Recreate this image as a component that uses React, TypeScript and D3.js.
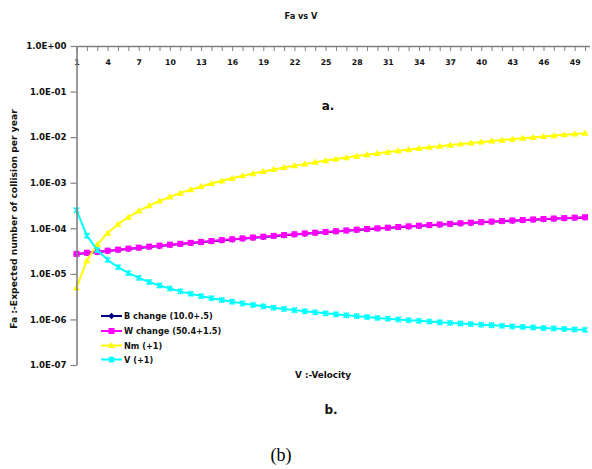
import React, { useEffect, useRef } from "react";
import * as d3 from "d3";

const categories = [
  1, 2, 3, 4, 5, 6, 7, 8, 9, 10, 11, 12, 13, 14, 15, 16, 17, 18, 19, 20, 21, 22, 23, 24, 25,
  26, 27, 28, 29, 30, 31, 32, 33, 34, 35, 36, 37, 38, 39, 40, 41, 42, 43, 44, 45, 46, 47, 48, 49, 50,
];
const xTickLabels = ["1", "4", "7", "10", "13", "16", "19", "22", "25", "28", "31", "34", "37", "40", "43", "46", "49"];
const yTickValues = [1, 1e-1, 1e-2, 1e-3, 1e-4, 1e-5, 1e-6, 1e-7];
const yTickLabels = ["1.0E+00", "1.0E-01", "1.0E-02", "1.0E-03", "1.0E-04", "1.0E-05", "1.0E-06", "1.0E-07"];

const bChange = [
  2.7e-5, 2.86e-5, 3.02e-5, 3.18e-5, 3.35e-5, 3.53e-5, 3.71e-5, 3.9e-5, 4.1e-5, 4.3e-5,
  4.51e-5, 4.73e-5, 4.95e-5, 5.18e-5, 5.42e-5, 5.67e-5, 5.92e-5, 6.18e-5, 6.45e-5, 6.72e-5,
  7.0e-5, 7.29e-5, 7.59e-5, 7.89e-5, 8.2e-5, 8.52e-5, 8.84e-5, 9.17e-5, 9.5e-5, 9.84e-5,
  1.019e-4, 1.054e-4, 1.089e-4, 1.125e-4, 1.161e-4, 1.198e-4, 1.235e-4, 1.272e-4, 1.31e-4, 1.348e-4,
  1.386e-4, 1.424e-4, 1.462e-4, 1.501e-4, 1.539e-4, 1.577e-4, 1.615e-4, 1.653e-4, 1.69e-4, 1.727e-4,
];
const wChange = [
  2.75e-5, 2.9e-5, 3.06e-5, 3.23e-5, 3.4e-5, 3.58e-5, 3.76e-5, 3.96e-5, 4.16e-5, 4.36e-5,
  4.57e-5, 4.79e-5, 5.02e-5, 5.26e-5, 5.5e-5, 5.75e-5, 6.0e-5, 6.27e-5, 6.54e-5, 6.82e-5,
  7.1e-5, 7.4e-5, 7.7e-5, 8.0e-5, 8.32e-5, 8.64e-5, 8.96e-5, 9.3e-5, 9.64e-5, 9.98e-5,
  1.033e-4, 1.068e-4, 1.104e-4, 1.14e-4, 1.177e-4, 1.214e-4, 1.252e-4, 1.29e-4, 1.328e-4, 1.366e-4,
  1.404e-4, 1.443e-4, 1.482e-4, 1.521e-4, 1.56e-4, 1.598e-4, 1.637e-4, 1.675e-4, 1.713e-4, 1.75e-4,
];
const nm = [
  4.9e-6, 1.96e-5, 4.41e-5, 7.84e-5, 1.23e-4, 1.76e-4, 2.4e-4, 3.14e-4, 3.97e-4, 4.9e-4,
  5.93e-4, 7.06e-4, 8.28e-4, 9.6e-4, 1.1e-3, 1.25e-3, 1.42e-3, 1.59e-3, 1.77e-3, 1.96e-3,
  2.16e-3, 2.37e-3, 2.59e-3, 2.82e-3, 3.06e-3, 3.31e-3, 3.57e-3, 3.84e-3, 4.12e-3, 4.41e-3,
  4.71e-3, 5.02e-3, 5.34e-3, 5.66e-3, 6.0e-3, 6.35e-3, 6.71e-3, 7.08e-3, 7.45e-3, 7.84e-3,
  8.24e-3, 8.64e-3, 9.06e-3, 9.49e-3, 9.92e-3, 1.037e-2, 1.082e-2, 1.129e-2, 1.176e-2, 1.225e-2,
];
const vPlus = [
  2.5e-4, 6.88e-5, 3.33e-5, 2.03e-5, 1.4e-5, 1.04e-5, 8.16e-6, 6.64e-6, 5.56e-6, 4.75e-6,
  4.13e-6, 3.65e-6, 3.25e-6, 2.93e-6, 2.67e-6, 2.44e-6, 2.25e-6, 2.08e-6, 1.94e-6, 1.81e-6,
  1.7e-6, 1.6e-6, 1.51e-6, 1.43e-6, 1.36e-6, 1.3e-6, 1.23e-6, 1.18e-6, 1.13e-6, 1.08e-6,
  1.04e-6, 1.0e-6, 9.65e-7, 9.3e-7, 8.98e-7, 8.68e-7, 8.4e-7, 8.14e-7, 7.89e-7, 7.66e-7,
  7.44e-7, 7.23e-7, 7.03e-7, 6.84e-7, 6.67e-7, 6.49e-7, 6.34e-7, 6.19e-7, 6.04e-7, 5.9e-7,
];

const seriesNames = ["B change (10.0+.5)", "W change (50.4+1.5)", "Nm (+1)", "V (+1)"];
const seriesColors = ["#000080", "#ff00ff", "#ffff00", "#00ffff"];
const seriesMarkers = ["diamond", "square", "triangle", "cross"];
const seriesValues = [bChange, wChange, nm, vPlus];

const W = 592;
const H = 469;
const plotLeft = 76.5;
const plotRight = 585;
const plotTop = 46;
const plotBottom = 365;
const font = "'DejaVu Sans', Arial, sans-serif";

function Marker({ type, x, y, color }: { type: string; x: number; y: number; color: string }) {
  if (type === "square") return <rect x={x - 3} y={y - 3} width={6} height={6} fill={color} />;
  if (type === "diamond") return <path d={`M${x},${y - 3.2}L${x + 3.2},${y}L${x},${y + 3.2}L${x - 3.2},${y}Z`} fill={color} />;
  if (type === "triangle") return <path d={`M${x},${y - 3.6}L${x + 3.6},${y + 2.6}L${x - 3.6},${y + 2.6}Z`} fill={color} />;
  return (
    <path
      d={`M${x - 2.6},${y - 2.6}L${x + 2.6},${y + 2.6}M${x - 2.6},${y + 2.6}L${x + 2.6},${y - 2.6}M${x},${y - 3}L${x},${y + 3}`}
      stroke={color}
      strokeWidth={1.6}
    />
  );
}

export default function App() {
  const xAxisRef = useRef<SVGGElement>(null);
  const yAxisRef = useRef<SVGGElement>(null);

  const x = d3.scaleLinear().domain([1, 50]).range([plotLeft, plotRight]);
  const y = d3.scaleLog().domain([1e-7, 1]).range([plotBottom, plotTop]);
  const line = d3
    .line<number>()
    .x((_, i) => x(categories[i]))
    .y((d) => y(d));

  useEffect(() => {
    const xa = d3
      .axisBottom(x)
      .tickValues(categories)
      .tickSize(5)
      .tickSizeOuter(0)
      .tickPadding(8)
      .tickFormat((d) => (xTickLabels.includes(String(d)) ? String(d) : ""));
    const gx = d3.select(xAxisRef.current!);
    gx.call(xa as any);
    gx.select(".domain").attr("stroke", "#808080").attr("stroke-width", 1.6).attr("d", `M${plotLeft},0.5H590`);
    gx.selectAll(".tick line").attr("stroke", "#808080").attr("stroke-width", 1);
    gx.selectAll(".tick text")
      .attr("font-family", font)
      .attr("font-size", 7.8)
      .attr("font-weight", "bold")
      .attr("fill", "#111");

    const ya = d3
      .axisLeft(y)
      .tickValues(yTickValues)
      .tickSize(6)
      .tickSizeOuter(0)
      .tickPadding(4)
      .tickFormat((d, i) => yTickLabels[i]);
    const gy = d3.select(yAxisRef.current!);
    gy.call(ya as any);
    gy.select(".domain").attr("stroke", "#808080").attr("stroke-width", 1.6);
    gy.selectAll(".tick line").attr("stroke", "#808080").attr("stroke-width", 1.2);
    gy.selectAll(".tick text")
      .attr("font-family", font)
      .attr("font-size", 8.6)
      .attr("font-weight", "bold")
      .attr("fill", "#111");
  }, []);

  const legendY = [316, 331, 345.5, 359.5];

  return (
    <svg width={W} height={H} style={{ position: "absolute", left: 0, top: 0, background: "#fff" }}>
      <rect width={W} height={H} fill="#fff" />
      <text x={301} y={19} textAnchor="middle" fontFamily={font} fontSize={8.2} fontWeight="bold" fill="#111">
        Fa vs V
      </text>

      {seriesValues.map((vals, si) => (
        <g key={si}>
          <path d={line(vals) || ""} fill="none" stroke={seriesColors[si]} strokeWidth={2} />
          {vals.map((v, i) => (
            <Marker key={i} type={seriesMarkers[si]} x={x(categories[i])} y={y(v)} color={seriesColors[si]} />
          ))}
        </g>
      ))}

      <g ref={xAxisRef} transform={`translate(0,${plotTop})`} />
      <g ref={yAxisRef} transform={`translate(${plotLeft},0)`} />

      <text
        transform={`translate(17,219) rotate(-90)`}
        textAnchor="middle"
        fontFamily={font}
        fontSize={9.2}
        fontWeight="bold"
        fill="#111"
      >
        Fa :-Expected number of collision per year
      </text>

      <text x={328} y={110} textAnchor="middle" fontFamily={font} fontSize={12} fontWeight="bold" fill="#111">
        a.
      </text>
      <text x={323} y={378} textAnchor="middle" fontFamily={font} fontSize={8.8} fontWeight="bold" fill="#111">
        V :-Velocity
      </text>
      <text x={331} y={414} textAnchor="middle" fontFamily={font} fontSize={12} fontWeight="bold" fill="#111">
        b.
      </text>
      <text x={281} y={461} textAnchor="middle" fontFamily="'Liberation Serif', 'Times New Roman', serif" fontSize={18} fill="#000">
        (b)
      </text>

      {seriesNames.map((name, i) => (
        <g key={name}>
          <line x1={101} x2={122} y1={legendY[i]} y2={legendY[i]} stroke={seriesColors[i]} strokeWidth={2} />
          <Marker type={seriesMarkers[i]} x={111.5} y={legendY[i]} color={seriesColors[i]} />
          <text x={124} y={legendY[i] + 3} fontFamily={font} fontSize={8.2} fontWeight="bold" fill="#111">
            {name}
          </text>
        </g>
      ))}
    </svg>
  );
}
